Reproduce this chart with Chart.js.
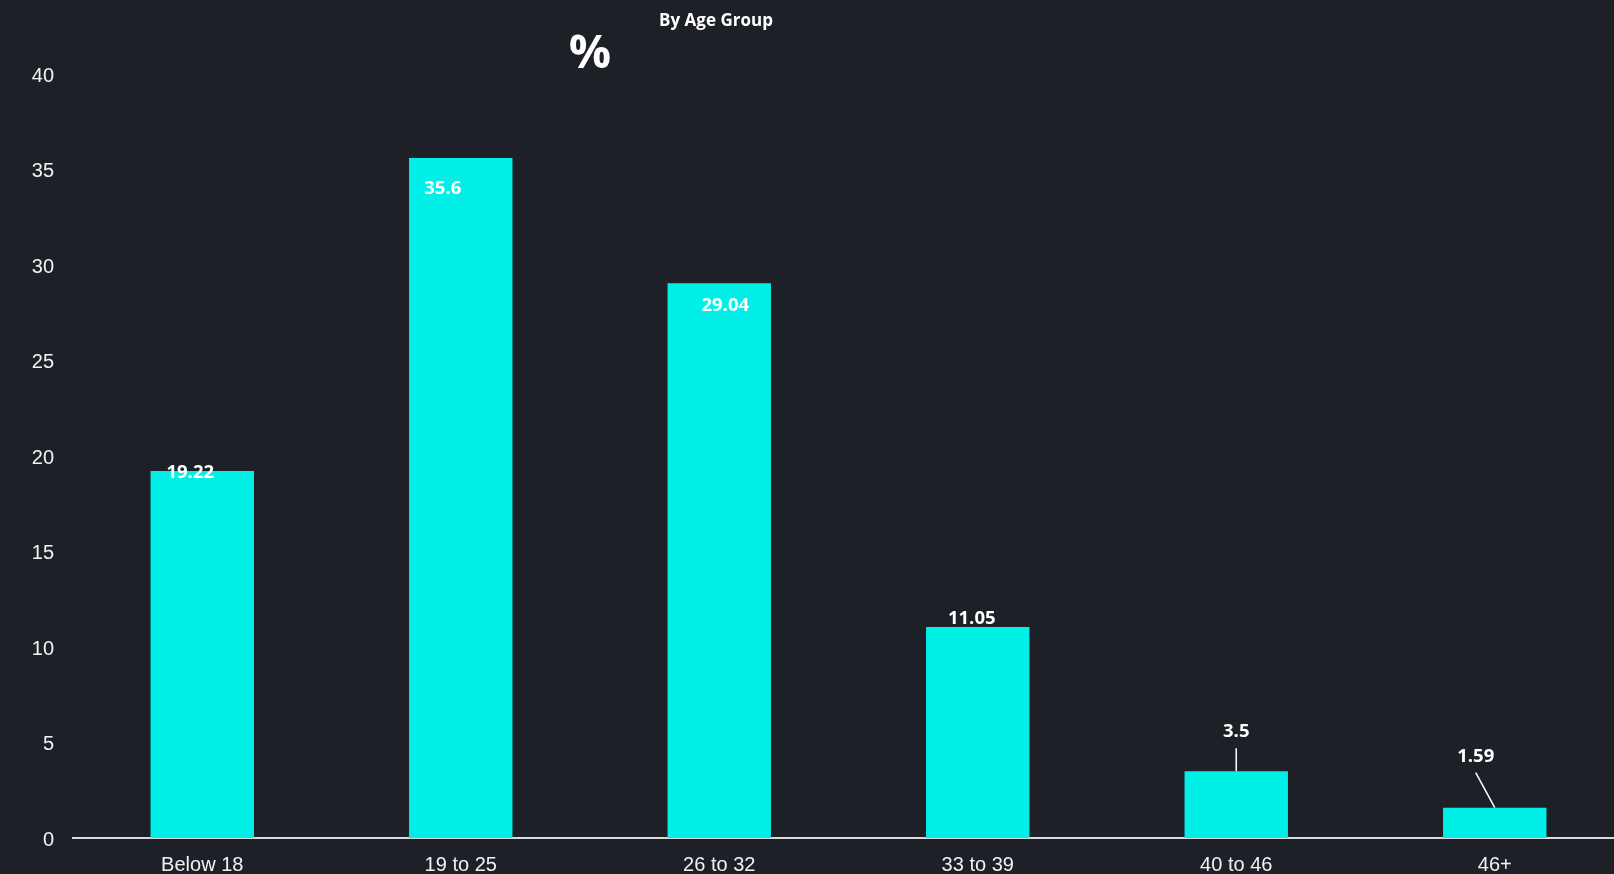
<!DOCTYPE html>
<html lang="en">
<head>
    <meta charset="UTF-8">
    <title>By Age Group</title>
    <script src="https://cdn.jsdelivr.net/npm/chart.js"></script>
    <style>
        html, body {
            margin: 0;
            padding: 0;
            background: #1e2028;
            overflow: hidden;
        }
        #wrap {
            width: 1624px;
            height: 874px;
        }
    </style>
</head>
<body>
    <div id="wrap">
        <canvas id="ageChart"></canvas>
    </div>

    <script>
        const ageGroups = ['Below 18', '19 to 25', '26 to 32', '33 to 39', '40 to 46', '46+'];
        const percentages = [19.22, 35.6, 29.04, 11.05, 3.5, 1.59];
        const yTicks = [0, 5, 10, 15, 20, 25, 30, 35, 40];

        // draws the value labels (hand placed like in the original) and the title texts
        const barLabels = {
            id: 'barLabels',
            afterDatasetsDraw(chart, args, opts) {
                const ctx = chart.ctx;
                const meta = chart.getDatasetMeta(0);
                ctx.save();
                ctx.fillStyle = '#ffffff';
                ctx.strokeStyle = '#ffffff';
                ctx.lineWidth = 1.5;
                ctx.textAlign = 'center';
                ctx.textBaseline = 'middle';
                ctx.font = 'bold 18.5px "Open Sans"';
                meta.data.forEach((bar, i) => {
                    const off = opts.offsets[i];
                    const lx = bar.x + off[0];
                    const ly = bar.y + off[1];
                    if (off[2]) {
                        ctx.beginPath();
                        ctx.moveTo(lx, ly + 16);
                        ctx.lineTo(bar.x, bar.y);
                        ctx.stroke();
                    }
                    ctx.fillText(chart.data.datasets[0].data[i], lx, ly);
                });

                const area = chart.chartArea;
                ctx.font = 'bold 17px "Open Sans"';
                ctx.fillText('By Age Group', area.left + 643, 21);
                ctx.font = 'bold 47px "Open Sans"';
                ctx.fillText('%', area.left + 517, 55);
                ctx.restore();
            }
        };

        const ctx = document.getElementById('ageChart').getContext('2d');
        new Chart(ctx, {
            type: 'bar',
            data: {
                labels: ageGroups,
                datasets: [{
                    label: '%',
                    data: percentages,
                    backgroundColor: '#00efe7',
                    borderWidth: 0,
                    barPercentage: 0.4,
                    categoryPercentage: 1.0
                }]
            },
            options: {
                responsive: true,
                maintainAspectRatio: false,
                animation: false,
                layout: {
                    padding: { top: 74, right: 0, left: 0, bottom: 0 }
                },
                plugins: {
                    legend: { display: false },
                    tooltip: { enabled: false },
                    barLabels: {
                        // [dx, dy, leader line]
                        offsets: [
                            [-12, 2, false],
                            [-18, 31, false],
                            [6, 22, false],
                            [-6, -8, false],
                            [0, -39, true],
                            [-19, -51, true]
                        ]
                    }
                },
                scales: {
                    x: {
                        grid: { display: false, drawTicks: false },
                        border: { display: true, color: '#d9d9d9', width: 2 },
                        ticks: {
                            color: '#f2f2f2',
                            padding: 15,
                            font: { family: '"Liberation Sans", Arial', size: 20 }
                        },
                        afterFit(scale) { scale.height = 36; }
                    },
                    y: {
                        min: 0,
                        max: 40,
                        afterBuildTicks(scale) {
                            scale.ticks = yTicks.map(v => ({ value: v }));
                        },
                        grid: { display: false, drawTicks: false },
                        border: { display: false },
                        ticks: {
                            color: '#f2f2f2',
                            padding: 19,
                            labelOffset: 2,
                            font: { family: '"Liberation Sans", Arial', size: 20 }
                        },
                        afterFit(scale) { scale.width = 73; }
                    }
                }
            },
            plugins: [barLabels]
        });
    </script>
</body>
</html>
